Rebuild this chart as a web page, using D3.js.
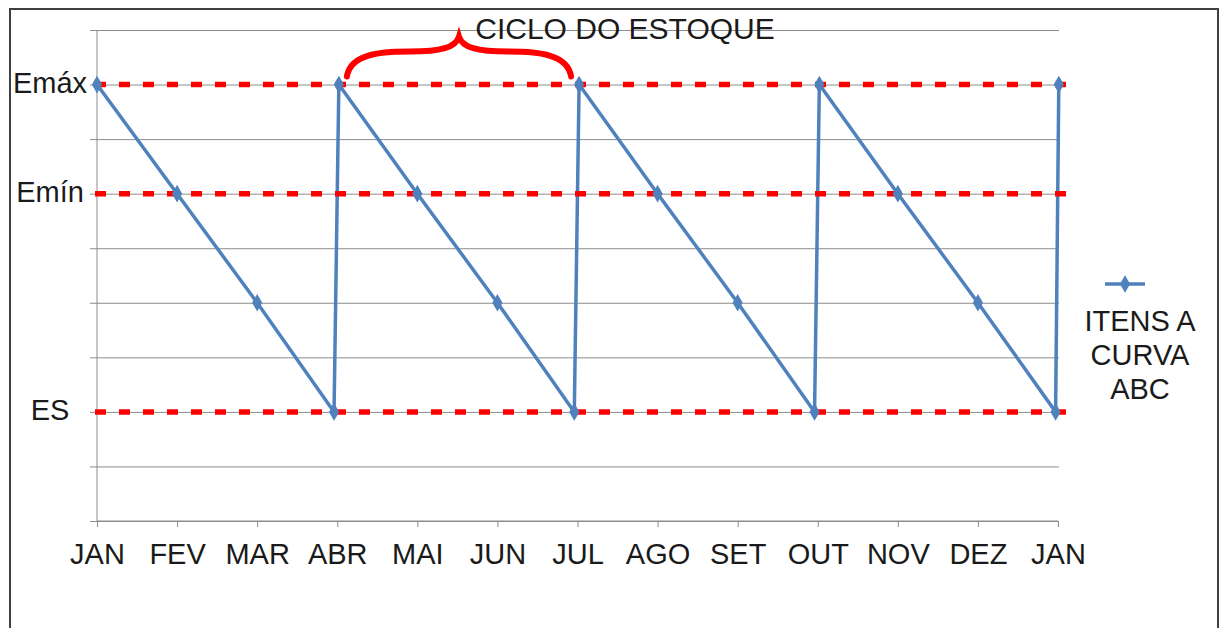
<!DOCTYPE html>
<html>
<head>
<meta charset="utf-8">
<script src="https://cdn.jsdelivr.net/npm/d3@7"></script>
<style>
  body { margin: 0; background: #fff; }
  svg { display: block; font-family: "Liberation Sans", Arial, sans-serif; }
  .grid line { stroke: #8c8c8c; stroke-width: 1; }
  .xaxis path, .xaxis line { stroke: #8c8c8c; stroke-width: 1; }
  .xaxis text { font-size: 29px; fill: #1a1a1a; }
</style>
</head>
<body>
<svg width="1222" height="628"></svg>
<script>
"use strict";

// month labels on the x axis
var months = ["JAN", "FEV", "MAR", "ABR", "MAI", "JUN", "JUL", "AGO", "SET", "OUT", "NOV", "DEZ", "JAN"];

// stock series: x = month position, y = stock level (0..9 grid units)
var stockX = [0, 1, 2, 2.96, 3.02, 4, 5, 5.96, 6.02, 7, 8, 8.96, 9.02, 10, 11, 11.97, 12.01];
var stockY = [8, 6, 4, 2, 8, 6, 4, 2, 8, 6, 4, 2, 8, 6, 4, 2, 8];

// reference levels
var levelNames = ["Emáx", "Emín", "ES"];
var levelValues = [8, 6, 2];

var gridValues = d3.range(0, 10);
var seriesName = ["ITENS A", "CURVA", "ABC"];
var cycleLabel = "CICLO DO ESTOQUE";

var svg = d3.select("svg");

var x = d3.scaleLinear().domain([0, 12]).range([97, 1058]);
var y = d3.scaleLinear().domain([0, 9]).range([521, 30]);

// outer frame
svg.append("rect")
  .attr("x", 10).attr("y", 9)
  .attr("width", 1208).attr("height", 660)
  .attr("fill", "none")
  .attr("stroke", "#404040")
  .attr("stroke-width", 2);

// horizontal gridlines
svg.append("g")
  .attr("class", "grid")
  .attr("transform", "translate(1059,0)")
  .call(d3.axisLeft(y).tickValues(gridValues).tickSize(1059 - 90).tickFormat(""))
  .call(function (g) { g.select(".domain").remove(); });

// y axis line
svg.append("line")
  .attr("x1", x(0)).attr("x2", x(0))
  .attr("y1", y(9)).attr("y2", y(0))
  .attr("stroke", "#8c8c8c");

// x axis
svg.append("g")
  .attr("class", "xaxis")
  .attr("transform", "translate(0," + y(0) + ")")
  .call(d3.axisBottom(x)
    .tickValues(d3.range(0, 13))
    .tickSize(6)
    .tickPadding(16)
    .tickFormat(function (d) { return months[d]; }))
  .call(function (g) { g.select(".domain").attr("d", "M" + x(0) + ",0H" + x(12)); });

var points = stockX.map(function (d, i) { return { x: d, y: stockY[i] }; });

var line = d3.line()
  .x(function (d) { return x(d.x); })
  .y(function (d) { return y(d.y); });

svg.append("path")
  .datum(points)
  .attr("d", line)
  .attr("fill", "none")
  .attr("stroke", "#4f81bd")
  .attr("stroke-width", 3.5)
  .attr("stroke-linejoin", "round");

// red dashed reference lines
svg.append("g")
  .selectAll("line")
  .data(levelValues)
  .enter().append("line")
  .attr("x1", x(0) - 2)
  .attr("x2", 1067)
  .attr("y1", function (d) { return y(d); })
  .attr("y2", function (d) { return y(d); })
  .attr("stroke", "#ff0000")
  .attr("stroke-width", 5.5)
  .attr("stroke-dasharray", "11,13");

var diamond = d3.symbol().type(d3.symbolDiamond).size(90);

svg.append("g")
  .selectAll("path")
  .data(points)
  .enter().append("path")
  .attr("d", diamond)
  .attr("transform", function (d) { return "translate(" + x(d.x) + "," + y(d.y) + ")"; })
  .attr("fill", "#4f81bd");

// level labels
svg.append("g")
  .selectAll("text")
  .data(levelValues)
  .enter().append("text")
  .attr("x", 50)
  .attr("y", function (d) { return y(d) + 8; })
  .attr("text-anchor", "middle")
  .attr("font-size", 29)
  .attr("fill", "#1a1a1a")
  .text(function (d, i) { return levelNames[i]; });

// cycle brace
var bx0 = x(3.12), bx1 = x(5.92), bw = bx1 - bx0, by = y(8) - 8;
function bp(f, dy) { return (bx0 + f * bw) + "," + (by - dy); }
svg.append("path")
  .attr("d", "M" + bp(0, 0) +
    "C" + bp(0.015, 22) + " " + bp(0.14, 25) + " " + bp(0.28, 25) +
    "C" + bp(0.42, 25) + " " + bp(0.485, 29) + " " + bp(0.5, 40) +
    "C" + bp(0.515, 29) + " " + bp(0.58, 25) + " " + bp(0.72, 25) +
    "C" + bp(0.86, 25) + " " + bp(0.985, 22) + " " + bp(1, 0))
  .attr("fill", "none")
  .attr("stroke", "#ff0000")
  .attr("stroke-width", 6)
  .attr("stroke-linecap", "round");

svg.append("text")
  .attr("x", 625)
  .attr("y", 39)
  .attr("text-anchor", "middle")
  .attr("font-size", 30)
  .attr("fill", "#1a1a1a")
  .text(cycleLabel);

// legend
var legend = svg.append("g").attr("transform", "translate(1125,284)");
legend.append("line")
  .attr("x1", -20).attr("x2", 20)
  .attr("stroke", "#4f81bd").attr("stroke-width", 3.5);
legend.append("path").attr("d", diamond).attr("fill", "#4f81bd");
legend.selectAll("text")
  .data(seriesName)
  .enter().append("text")
  .attr("x", 15)
  .attr("y", function (d, i) { return 47 + i * 34; })
  .attr("text-anchor", "middle")
  .attr("font-size", 29)
  .attr("fill", "#1a1a1a")
  .text(function (d) { return d; });
</script>
</body>
</html>
